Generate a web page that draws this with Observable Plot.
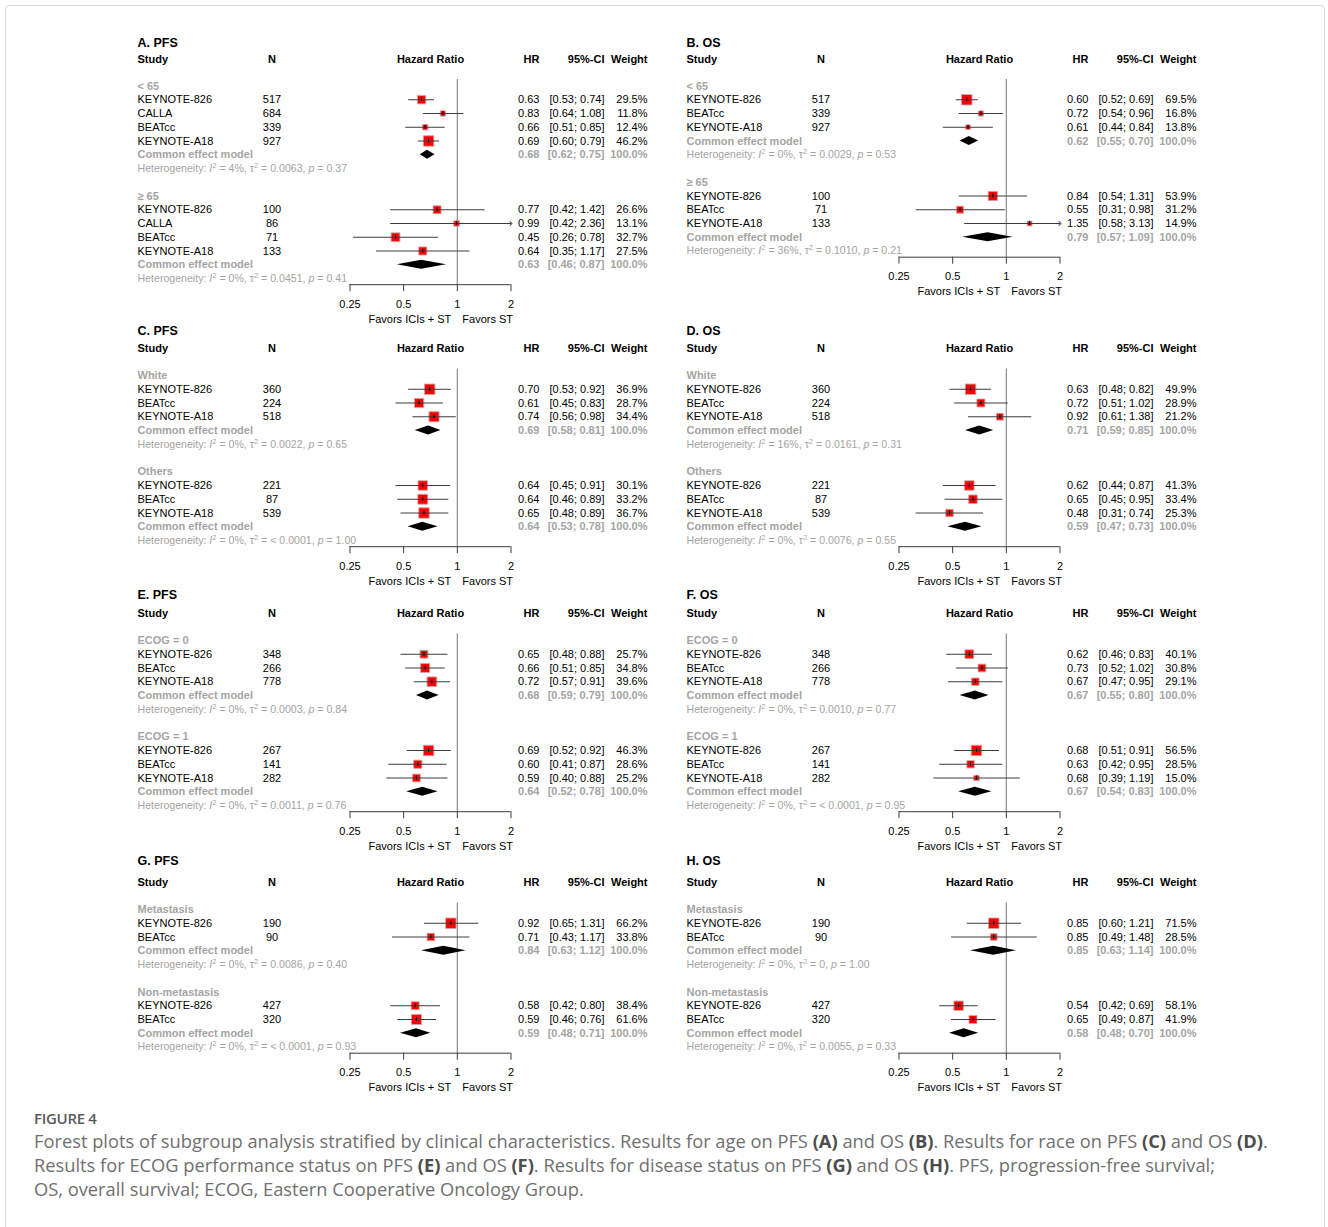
<!DOCTYPE html>
<html>
<head>
<meta charset="utf-8">
<script src="https://cdn.jsdelivr.net/npm/d3@7"></script>
<script src="https://cdn.jsdelivr.net/npm/@observablehq/plot@0.6"></script>
<style>
  html, body { margin: 0; padding: 0; background: #fff; }
  #page { position: relative; width: 1328px; height: 1227px; overflow: hidden; background: #fff; }
  #frame { position: absolute; left: 5px; top: 5px; width: 1320px; height: 1260px; border: 1px solid #d6d6d6; border-radius: 4px; box-sizing: border-box; }
  #figlabel { position: absolute; left: 34px; top: 1108px; font-family: "Open Sans", sans-serif; font-size: 15px; font-weight: 600; color: #5a5a5a; letter-spacing: -0.3px; }
  #caption { position: absolute; left: 34px; top: 1129px; font-family: "Open Sans", sans-serif; font-size: 17px; line-height: 24px; color: #707070; white-space: nowrap; }
  #caption > div { display: block; }
  #capline1 span.m { display: inline-block; }
  #caption b { color: #4d4d4d; font-weight: 700; }
</style>
</head>
<body>
<div id="page">
  <div id="frame"></div>
  <div id="panels"></div>
  <div id="figlabel">FIGURE 4</div>
  <div id="caption">
    <div><span id="capline1">Forest plots of subgroup analysis stratified by clinical characteristics. Results for age on PFS <b>(A)</b> and OS <b>(B)</b>. Results for race on PFS <b>(C)</b> and OS <b>(D)</b>.</span></div>
    <div>Results for ECOG performance status on PFS <b>(E)</b> and OS <b>(F)</b>. Results for disease status on PFS <b>(G)</b> and OS <b>(H)</b>. PFS, progression-free survival;</div>
    <div>OS, overall survival; ECOG, Eastern Cooperative Oncology Group.</div>
  </div>
</div>
<script>
// ---------------- DATA ----------------
const ticksHR = [0.25, 0.5, 1, 2];
const nullHR = 1;
const favorsLeft = "Favors ICIs + ST";
const favorsRight = "Favors ST";
const colHeaders = ["Study", "N", "Hazard Ratio", "HR", "95%-CI", "Weight"];
const pooledLabel = "Common effect model";
const titles = ["A. PFS", "B. OS", "C. PFS", "D. OS", "E. PFS", "F. OS", "G. PFS", "H. OS"];

// studies: [subgroup, study, N, HR, lower, upper, weight %]
const studiesA = [
  ["< 65", "KEYNOTE-826", 517, 0.63, 0.53, 0.74, 29.5],
  ["< 65", "CALLA", 684, 0.83, 0.64, 1.08, 11.8],
  ["< 65", "BEATcc", 339, 0.66, 0.51, 0.85, 12.4],
  ["< 65", "KEYNOTE-A18", 927, 0.69, 0.60, 0.79, 46.2],
  ["≥ 65", "KEYNOTE-826", 100, 0.77, 0.42, 1.42, 26.6],
  ["≥ 65", "CALLA", 86, 0.99, 0.42, 2.36, 13.1],
  ["≥ 65", "BEATcc", 71, 0.45, 0.26, 0.78, 32.7],
  ["≥ 65", "KEYNOTE-A18", 133, 0.64, 0.35, 1.17, 27.5]
];
// pooled: [subgroup, HR, lower, upper, I2, tau2, p]
const pooledA = [
  ["< 65", 0.68, 0.62, 0.75, "4%", "0.0063", "0.37"],
  ["≥ 65", 0.63, 0.46, 0.87, "0%", "0.0451", "0.41"]
];

const studiesB = [
  ["< 65", "KEYNOTE-826", 517, 0.60, 0.52, 0.69, 69.5],
  ["< 65", "BEATcc", 339, 0.72, 0.54, 0.96, 16.8],
  ["< 65", "KEYNOTE-A18", 927, 0.61, 0.44, 0.84, 13.8],
  ["≥ 65", "KEYNOTE-826", 100, 0.84, 0.54, 1.31, 53.9],
  ["≥ 65", "BEATcc", 71, 0.55, 0.31, 0.98, 31.2],
  ["≥ 65", "KEYNOTE-A18", 133, 1.35, 0.58, 3.13, 14.9]
];
const pooledB = [
  ["< 65", 0.62, 0.55, 0.70, "0%", "0.0029", "0.53"],
  ["≥ 65", 0.79, 0.57, 1.09, "36%", "0.1010", "0.21"]
];

const studiesC = [
  ["White", "KEYNOTE-826", 360, 0.70, 0.53, 0.92, 36.9],
  ["White", "BEATcc", 224, 0.61, 0.45, 0.83, 28.7],
  ["White", "KEYNOTE-A18", 518, 0.74, 0.56, 0.98, 34.4],
  ["Others", "KEYNOTE-826", 221, 0.64, 0.45, 0.91, 30.1],
  ["Others", "BEATcc", 87, 0.64, 0.46, 0.89, 33.2],
  ["Others", "KEYNOTE-A18", 539, 0.65, 0.48, 0.89, 36.7]
];
const pooledC = [
  ["White", 0.69, 0.58, 0.81, "0%", "0.0022", "0.65"],
  ["Others", 0.64, 0.53, 0.78, "0%", "< 0.0001", "1.00"]
];

const studiesD = [
  ["White", "KEYNOTE-826", 360, 0.63, 0.48, 0.82, 49.9],
  ["White", "BEATcc", 224, 0.72, 0.51, 1.02, 28.9],
  ["White", "KEYNOTE-A18", 518, 0.92, 0.61, 1.38, 21.2],
  ["Others", "KEYNOTE-826", 221, 0.62, 0.44, 0.87, 41.3],
  ["Others", "BEATcc", 87, 0.65, 0.45, 0.95, 33.4],
  ["Others", "KEYNOTE-A18", 539, 0.48, 0.31, 0.74, 25.3]
];
const pooledD = [
  ["White", 0.71, 0.59, 0.85, "16%", "0.0161", "0.31"],
  ["Others", 0.59, 0.47, 0.73, "0%", "0.0076", "0.55"]
];

const studiesE = [
  ["ECOG = 0", "KEYNOTE-826", 348, 0.65, 0.48, 0.88, 25.7],
  ["ECOG = 0", "BEATcc", 266, 0.66, 0.51, 0.85, 34.8],
  ["ECOG = 0", "KEYNOTE-A18", 778, 0.72, 0.57, 0.91, 39.6],
  ["ECOG = 1", "KEYNOTE-826", 267, 0.69, 0.52, 0.92, 46.3],
  ["ECOG = 1", "BEATcc", 141, 0.60, 0.41, 0.87, 28.6],
  ["ECOG = 1", "KEYNOTE-A18", 282, 0.59, 0.40, 0.88, 25.2]
];
const pooledE = [
  ["ECOG = 0", 0.68, 0.59, 0.79, "0%", "0.0003", "0.84"],
  ["ECOG = 1", 0.64, 0.52, 0.78, "0%", "0.0011", "0.76"]
];

const studiesF = [
  ["ECOG = 0", "KEYNOTE-826", 348, 0.62, 0.46, 0.83, 40.1],
  ["ECOG = 0", "BEATcc", 266, 0.73, 0.52, 1.02, 30.8],
  ["ECOG = 0", "KEYNOTE-A18", 778, 0.67, 0.47, 0.95, 29.1],
  ["ECOG = 1", "KEYNOTE-826", 267, 0.68, 0.51, 0.91, 56.5],
  ["ECOG = 1", "BEATcc", 141, 0.63, 0.42, 0.95, 28.5],
  ["ECOG = 1", "KEYNOTE-A18", 282, 0.68, 0.39, 1.19, 15.0]
];
const pooledF = [
  ["ECOG = 0", 0.67, 0.55, 0.80, "0%", "0.0010", "0.77"],
  ["ECOG = 1", 0.67, 0.54, 0.83, "0%", "< 0.0001", "0.95"]
];

const studiesG = [
  ["Metastasis", "KEYNOTE-826", 190, 0.92, 0.65, 1.31, 66.2],
  ["Metastasis", "BEATcc", 90, 0.71, 0.43, 1.17, 33.8],
  ["Non-metastasis", "KEYNOTE-826", 427, 0.58, 0.42, 0.80, 38.4],
  ["Non-metastasis", "BEATcc", 320, 0.59, 0.46, 0.76, 61.6]
];
const pooledG = [
  ["Metastasis", 0.84, 0.63, 1.12, "0%", "0.0086", "0.40"],
  ["Non-metastasis", 0.59, 0.48, 0.71, "0%", "< 0.0001", "0.93"]
];

const studiesH = [
  ["Metastasis", "KEYNOTE-826", 190, 0.85, 0.60, 1.21, 71.5],
  ["Metastasis", "BEATcc", 90, 0.85, 0.49, 1.48, 28.5],
  ["Non-metastasis", "KEYNOTE-826", 427, 0.54, 0.42, 0.69, 58.1],
  ["Non-metastasis", "BEATcc", 320, 0.65, 0.49, 0.87, 41.9]
];
const pooledH = [
  ["Metastasis", 0.85, 0.63, 1.14, "0%", "0", "1.00"],
  ["Non-metastasis", 0.58, 0.48, 0.70, "0%", "0.0055", "0.33"]
];

// ---------------- LAYOUT ----------------
const ROW = 13.75;
const panelLayout = [
  { left: 130, titleY: 42.5, row0: 85.5 },
  { left: 679, titleY: 42.5, row0: 85.5 },
  { left: 130, titleY: 330, row0: 375 },
  { left: 679, titleY: 330, row0: 375 },
  { left: 130, titleY: 594, row0: 640 },
  { left: 679, titleY: 594, row0: 640 },
  { left: 130, titleY: 860, row0: 909 },
  { left: 679, titleY: 860, row0: 909 }
];
const colX = { study: 7, n: 141.5, hr: 409, ci: 474, w: 517 };
const GRAY = "#a4a4a4";
const FONT = "'Liberation Sans', Arial, Helvetica, sans-serif";

function richHet(svg) {
  const NS = "http://www.w3.org/2000/svg";
  svg.querySelectorAll("text").forEach(t => {
    const s = t.textContent;
    const m = s.match(/^Heterogeneity: I² = (.+?), τ² = (.+?), p = (.+)$/);
    if (!m) return;
    const parts = [["Heterogeneity: "], ["I", "i"], ["2", "s"], [` = ${m[1]}, τ`], ["2", "s"], [` = ${m[2]}, `], ["p", "i"], [` = ${m[3]}`]];
    t.textContent = "";
    let shifted = false;
    for (const [str, k] of parts) {
      const ts = document.createElementNS(NS, "tspan");
      ts.textContent = str;
      if (k === "i") ts.setAttribute("font-style", "italic");
      if (k === "s") { ts.setAttribute("font-size", "7.5"); ts.setAttribute("dy", "-4"); shifted = true; }
      else if (shifted) { ts.setAttribute("dy", "4"); shifted = false; }
      t.appendChild(ts);
    }
  });
}

function makePanel(title, studies, pooled, L) {
  const groups = pooled.map(p => p[0]);
  const nPer = studies.filter(s => s[0] === groups[0]).length;
  const stride = nPer + 4;
  const labels = [], sq = [], dia = [], het = [];
  groups.forEach((g, gi) => {
    const base = gi * stride;
    labels.push({ row: base, text: g });
    studies.filter(s => s[0] === g).forEach((s, i) =>
      sq.push({ row: base + 1 + i, study: s[1], n: s[2], hr: s[3], lo: s[4], hi: s[5], w: s[6] }));
    const p = pooled[gi];
    dia.push({ row: base + nPer + 1, hr: p[1], lo: p[2], hi: p[3] });
    het.push({ row: base + nPer + 2, text: `Heterogeneity: I² = ${p[4]}, τ² = ${p[5]}, p = ${p[6]}` });
  });
  const lastRow = (groups.length - 1) * stride + nPer + 2;
  const axisRow = lastRow + 0.45;
  const top = Math.floor(L.titleY - 14);
  const r0 = L.row0 - top;
  const yPx = r => r0 + r * ROW;
  const height = Math.ceil(yPx(axisRow + 2.6) + 9);
  const marginBottom = height - yPx(axisRow);
  const xMin = ticksHR[0], xMax = ticksHR[ticksHR.length - 1];
  const maxW = d3.max(sq, d => d.w);
  const f2 = v => v.toFixed(2);
  const ciText = d => `[${f2(d.lo)}; ${f2(d.hi)}]`;
  const titleRow = (L.titleY - L.row0) / ROW;
  const headerRow = -27 / ROW;
  const inRange = sq.filter(d => d.lo >= xMin && d.hi <= xMax);
  const clipped = sq.filter(d => !(d.lo >= xMin && d.hi <= xMax));
  const diaPts = dia.flatMap((d, i) => [
    { id: i, y: d.row - 0.33, x1: d.hr, x2: d.hr },
    { id: i, y: d.row, x1: d.lo, x2: d.hi },
    { id: i, y: d.row + 0.33, x1: d.hr, x2: d.hr }
  ]);
  const hdr = [{ row: headerRow }];
  const col = (data, text, dx, anchor, extra = {}) =>
    Plot.text(data, { text, y: "row", frameAnchor: "left", dx, textAnchor: anchor, fontSize: 11, fill: "#000", ...extra });
  const bold = { fontWeight: "bold" };
  const gbold = { fontWeight: "bold", fill: GRAY };

  const svg = Plot.plot({
    width: 540, height,
    marginLeft: 0, marginRight: 0, marginTop: 0, marginBottom,
    style: { fontFamily: FONT, background: "transparent", overflow: "visible", fontSize: "11px" },
    x: { type: "log", domain: [xMin, xMax], range: [219.5, 380.5] },
    y: { domain: [0, 1], range: [r0, r0 + ROW], axis: null },
    r: { type: "sqrt", domain: [0, maxW], range: [0, 5.9] },
    marks: [
      Plot.ruleX([nullHR], { x: d => d, y1: () => -0.47, y2: () => axisRow, stroke: "#8c8c8c", strokeWidth: 1.2 }),
      Plot.dot(sq, { x: "hr", y: "row", r: "w", symbol: "square", fill: "#ff0000", stroke: "#cfa5a5", strokeWidth: 0.9 }),
      Plot.link(inRange, { x1: "lo", x2: "hi", y1: "row", y2: "row", stroke: "#3c3c3c", strokeWidth: 1 }),
      Plot.link(clipped, { x1: d => Math.max(d.lo, xMin), x2: d => Math.min(d.hi, xMax), y1: "row", y2: "row", stroke: "#3c3c3c", strokeWidth: 1, markerEnd: "arrow" }),
      Plot.ruleX(sq, { x: "hr", y1: d => d.row - 0.15, y2: d => d.row + 0.15, stroke: "#000", strokeWidth: 1 }),
      Plot.areaX(diaPts, { y: "y", x1: "x1", x2: "x2", z: "id", fill: "#000", curve: "linear" }),
      Plot.ruleY([axisRow], { y: d => d, x1: () => xMin, x2: () => xMax, stroke: "#3c3c3c", strokeWidth: 1 }),
      Plot.axisX({ ticks: ticksHR, tickFormat: d => String(d), tickSize: 7, tickPadding: 8, fontSize: 11, label: null, stroke: "#3c3c3c", fill: "#000" }),
      Plot.text([favorsLeft], { text: d => d, x: () => nullHR, y: () => axisRow + 2.5, textAnchor: "end", dx: -6, fontSize: 11, fill: "#000" }),
      Plot.text([favorsRight], { text: d => d, x: () => nullHR, y: () => axisRow + 2.5, textAnchor: "start", dx: 5, fontSize: 11, fill: "#000" }),
      // title + headers
      Plot.text([title], { text: d => d, y: () => titleRow, frameAnchor: "left", dx: colX.study, textAnchor: "start", fontSize: 12.5, fontWeight: "bold", fill: "#000" }),
      col(hdr, () => colHeaders[0], colX.study, "start", bold),
      col(hdr, () => colHeaders[1], colX.n, "middle", bold),
      Plot.text(hdr, { text: () => colHeaders[2], y: "row", x: () => Math.sqrt(xMin * xMax), textAnchor: "middle", fontSize: 11, fontWeight: "bold", fill: "#000" }),
      col(hdr, () => colHeaders[3], colX.hr, "end", bold),
      col(hdr, () => colHeaders[4], colX.ci, "end", bold),
      col(hdr, () => colHeaders[5], colX.w, "end", bold),
      // subgroup labels
      col(labels, "text", colX.study, "start", gbold),
      // study rows
      col(sq, "study", colX.study, "start"),
      col(sq, d => String(d.n), colX.n, "middle"),
      col(sq, d => f2(d.hr), colX.hr, "end"),
      col(sq, ciText, colX.ci, "end"),
      col(sq, d => d.w.toFixed(1) + "%", colX.w, "end"),
      // pooled rows
      col(dia, () => pooledLabel, colX.study, "start", gbold),
      col(dia, d => f2(d.hr), colX.hr, "end", gbold),
      col(dia, ciText, colX.ci, "end", gbold),
      col(dia, () => "100.0%", colX.w, "end", gbold),
      // heterogeneity
      col(het, "text", colX.study, "start", { fill: GRAY, fontSize: 10.6 })
    ]
  });
  richHet(svg);
  svg.style.position = "absolute";
  svg.style.left = L.left + "px";
  svg.style.top = top + "px";
  svg.style.maxWidth = "none";
  return svg;
}

const panelStudies = [studiesA, studiesB, studiesC, studiesD, studiesE, studiesF, studiesG, studiesH];
const panelPooled = [pooledA, pooledB, pooledC, pooledD, pooledE, pooledF, pooledG, pooledH];
const host = document.getElementById("panels");
titles.forEach((t, i) => host.appendChild(makePanel(t, panelStudies[i], panelPooled[i], panelLayout[i])));

// fit caption width to the reference line length
const cap = document.getElementById("caption");
const line1 = document.getElementById("capline1");
const w1 = line1.getBoundingClientRect().width;
if (w1 > 0) cap.style.fontSize = (17 * 1235 / w1).toFixed(2) + "px";
</script>
</body>
</html>
